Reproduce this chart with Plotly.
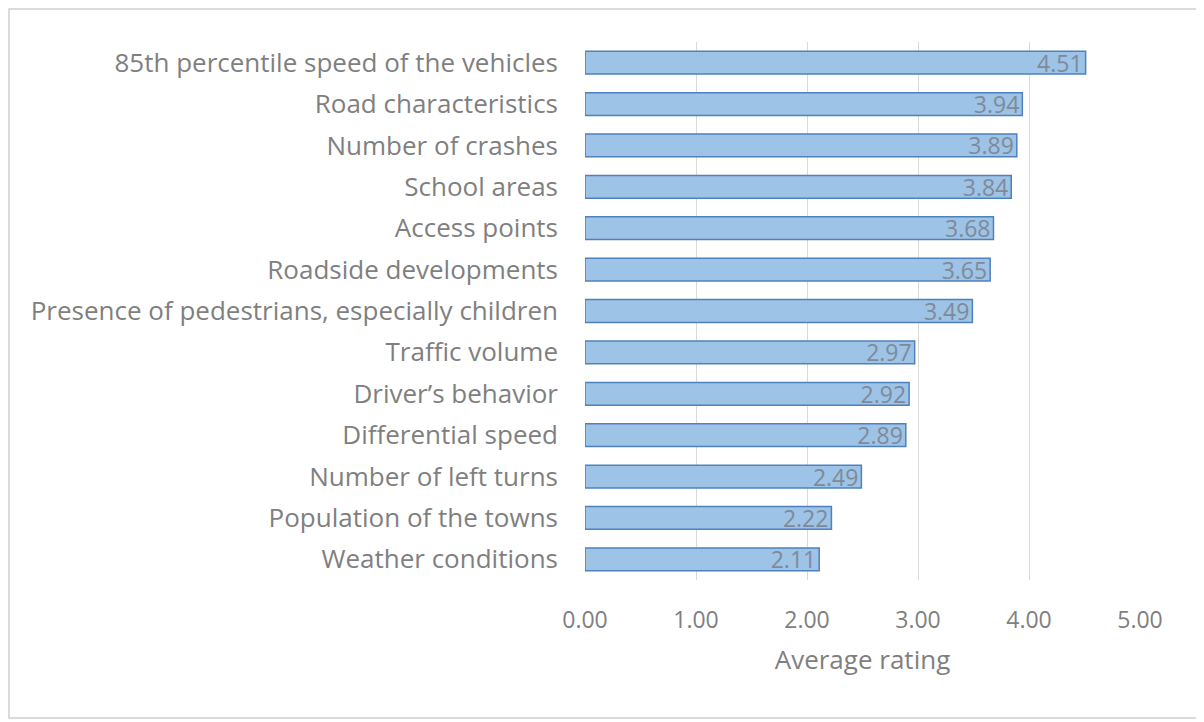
import plotly.graph_objects as go

factors = [
    "85th percentile speed of the vehicles",
    "Road characteristics",
    "Number of crashes",
    "School areas",
    "Access points",
    "Roadside developments",
    "Presence of pedestrians, especially children",
    "Traffic volume",
    "Driver\u2019s behavior",
    "Differential speed",
    "Number of left turns",
    "Population of the towns",
    "Weather conditions",
]
ratings = [4.51, 3.94, 3.89, 3.84, 3.68, 3.65, 3.49, 2.97, 2.92, 2.89, 2.49, 2.22, 2.11]

# the page body adds an 8px offset, so margins are set in figure pixels
W, H = 1204, 722
ml, mr, mt, mb = 577, 72, 34, 150
pw, ph = W - ml - mr, H - mt - mb

fig = go.Figure(go.Bar(
    x=ratings[::-1],
    y=factors[::-1],
    orientation="h",
    marker=dict(color="#9dc3e6", line=dict(color="#4f81bd", width=1.5)),
    text=[f"{v:.2f}" for v in ratings[::-1]],
    textposition="inside",
    insidetextanchor="end",
    constraintext="none",
    textfont=dict(color="#7f8a99", size=23),
    width=0.55,
))

# outer frame around the chart
px2x = lambda p: (p - ml) / pw
px2y = lambda p: (H - mb - p) / ph
fig.add_shape(type="rect", xref="paper", yref="paper",
              x0=px2x(1), x1=px2x(1192), y0=px2y(710), y1=px2y(1),
              line=dict(color="#d0d0d0", width=1.5), layer="below")

fig.update_layout(
    width=W, height=H,
    margin=dict(l=ml, r=mr, t=mt, b=mb),
    paper_bgcolor="white", plot_bgcolor="white",
    font=dict(family="Open Sans", color="#595959", size=20),
    showlegend=False,
)
fig.update_xaxes(range=[0, 5], dtick=1, tickformat=".2f",
                 showgrid=True, gridcolor="#d9d9d9", gridwidth=1,
                 zeroline=False, showline=False, automargin=False,
                 ticks="", ticklabelstandoff=24,
                 tickfont=dict(size=23, color="#7f7f7f"),
                 title=dict(text="Average rating", font=dict(size=26, color="#7f7f7f"), standoff=16))
fig.update_yaxes(showgrid=False, showline=False, ticks="", ticklabelstandoff=26,
                 automargin=False,
                 tickfont=dict(size=26, color="#7f7f7f"))

fig.write_html("out.html")
